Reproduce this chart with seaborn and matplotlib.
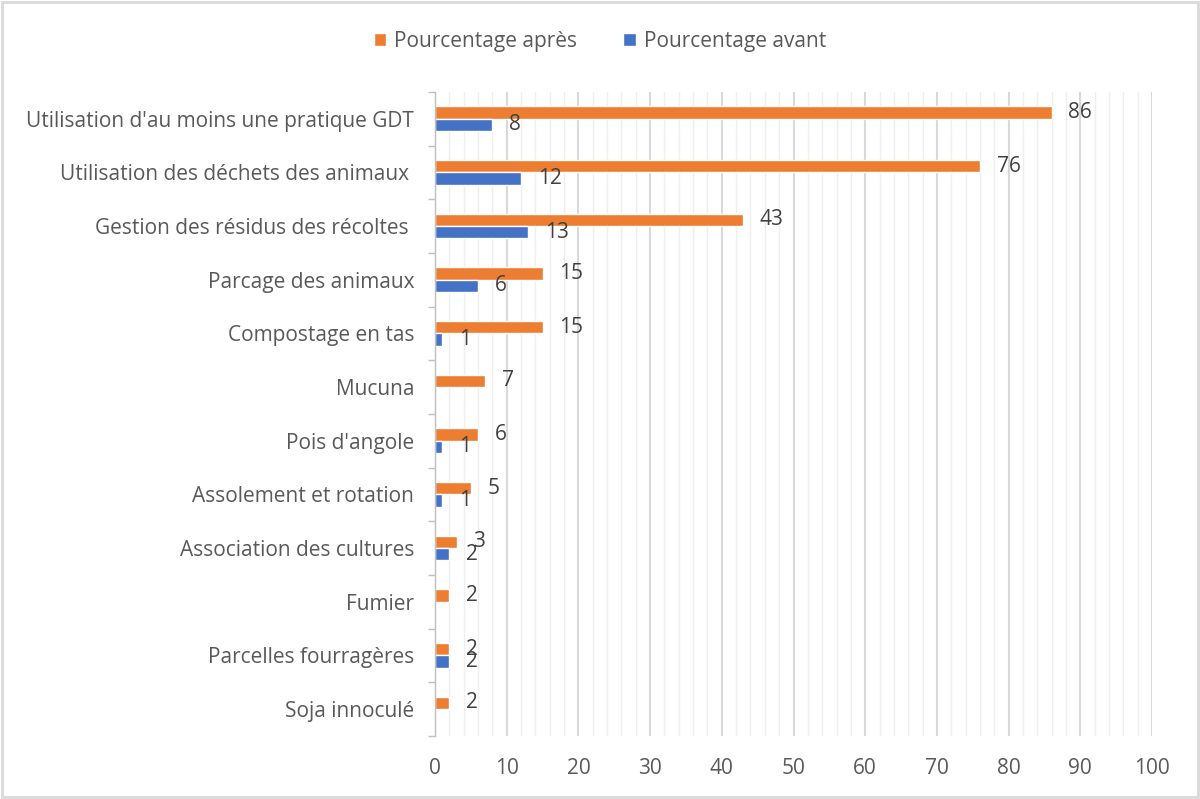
import numpy as np
import pandas as pd
import matplotlib
matplotlib.use("Agg")
import matplotlib.pyplot as plt
import seaborn as sns
from matplotlib.ticker import MultipleLocator

categories = ["Utilisation d'au moins une pratique GDT",
              "Utilisation des déchets des animaux ",
              "Gestion des résidus des récoltes ",
              "Parcage des animaux",
              "Compostage en tas",
              "Mucuna",
              "Pois d'angole",
              "Assolement et rotation",
              "Association des cultures",
              "Fumier",
              "Parcelles fourragères",
              "Soja innoculé"]
apres = [86, 76, 43, 15, 15, 7, 6, 5, 3, 2, 2, 2]
avant = [8, 12, 13, 6, 1, np.nan, 1, 1, 2, np.nan, 2, np.nan]
series = ["Pourcentage après", "Pourcentage avant"]
colors = ["#ED7D31", "#4472C4"]

df = pd.DataFrame({
    "cat": categories * 2,
    "val": apres + avant,
    "serie": [series[0]] * len(categories) + [series[1]] * len(categories),
})

sns.set_theme(style="white")
plt.rcParams['font.family'] = ['Open Sans', 'DejaVu Sans']
txt = "#595959"

fig = plt.figure(figsize=(12, 7.99), dpi=100)
ax = fig.add_axes([0.3625, 0.079, 0.5975, 0.806])

sns.barplot(data=df, y="cat", x="val", hue="serie", hue_order=series,
            palette=colors, orient="h", width=0.46, ax=ax, saturation=1,
            legend=True)

for cont in ax.containers:
    ax.bar_label(cont, fmt="%g", padding=12, fontsize=15, color="#404040")

ax.set_xlim(0, 100)
ax.set_ylim(len(categories) - 0.5, -0.5)
ax.xaxis.set_major_locator(MultipleLocator(10))
ax.xaxis.set_minor_locator(MultipleLocator(2))
ax.grid(axis="x", which="major", color="#D9D9D9", linewidth=1.5)
ax.grid(axis="x", which="minor", color="#EFEFEF", linewidth=1.0)
ax.set_axisbelow(True)

ax.set_yticks(np.arange(-0.5, len(categories)), minor=True)
ax.tick_params(axis="y", which="major", length=0, pad=15, labelsize=15, labelcolor=txt)
ax.tick_params(axis="y", which="minor", length=5, color="#BFBFBF", width=1, left=True)
ax.tick_params(axis="x", which="both", length=0, pad=16, labelsize=15, labelcolor=txt)

for s in ["top", "right", "bottom"]:
    ax.spines[s].set_visible(False)
ax.spines["left"].set_color("#BFBFBF")
ax.spines["left"].set_linewidth(1)

ax.set_xlabel("")
ax.set_ylabel("")

handles, labels = ax.get_legend_handles_labels()
ax.legend(handles, labels, loc="center", bbox_to_anchor=(0.5, 0.948),
          bbox_transform=fig.transFigure, ncol=2, frameon=False,
          fontsize=15, labelcolor=txt, handlelength=0.6, handleheight=0.6,
          columnspacing=2.2, handletextpad=0.4)

fig.patches.append(plt.Rectangle((0.002, 0.003), 0.996, 0.994, transform=fig.transFigure,
                                 fill=False, edgecolor="#D9D9D9", linewidth=2))

fig.savefig("out.png", dpi=100)
